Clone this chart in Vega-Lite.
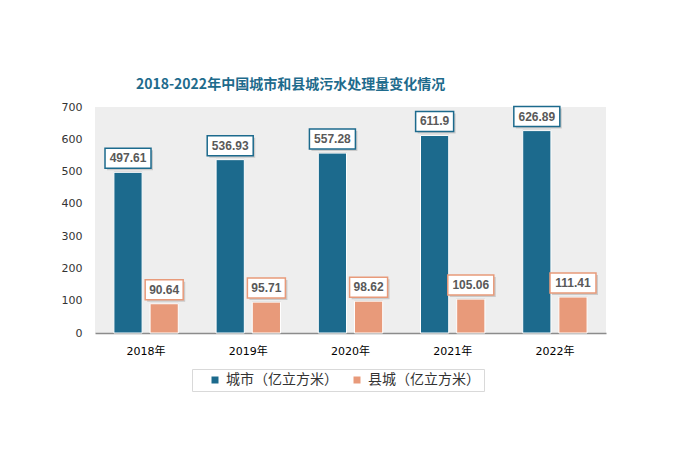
{
  "$schema": "https://vega.github.io/schema/vega-lite/v6.json",
  "width": 511,
  "height": 226,
  "autosize": {"type": "none"},
  "padding": {"left": 95, "top": 107, "right": 72, "bottom": 129},
  "background": "#ffffff",
  "config": {
    "view": {"fill": "#eeeeee", "stroke": null},
    "font": "DejaVu Sans, Noto Sans CJK SC"
  },
  "title": {
    "text": "2018-2022年中国城市和县城污水处理量变化情况",
    "font": "Noto Sans CJK SC",
    "fontSize": 14,
    "fontWeight": "bold",
    "color": "#1e6b8c",
    "anchor": "middle",
    "frame": "group",
    "dx": -60,
    "dy": 23,
    "baseline": "bottom",
    "offset": 18
  },
  "data": {
    "values": [
      {"year": "2018年", "series": "城市（亿立方米）", "value": 497.61},
      {"year": "2018年", "series": "县城（亿立方米）", "value": 90.64},
      {"year": "2019年", "series": "城市（亿立方米）", "value": 536.93},
      {"year": "2019年", "series": "县城（亿立方米）", "value": 95.71},
      {"year": "2020年", "series": "城市（亿立方米）", "value": 557.28},
      {"year": "2020年", "series": "县城（亿立方米）", "value": 98.62},
      {"year": "2021年", "series": "城市（亿立方米）", "value": 611.9},
      {"year": "2021年", "series": "县城（亿立方米）", "value": 105.06},
      {"year": "2022年", "series": "城市（亿立方米）", "value": 626.89},
      {"year": "2022年", "series": "县城（亿立方米）", "value": 111.41}
    ]
  },
  "encoding": {
    "x": {
      "field": "year",
      "type": "nominal",
      "sort": null,
      "scale": {"paddingInner": 0.37, "paddingOuter": 0.185},
      "axis": {
        "title": null,
        "ticks": false,
        "labelAngle": 0,
        "domainColor": "#8c8c8c",
        "domainWidth": 1.5,
        "labelFont": "DejaVu Sans, Noto Sans CJK SC",
        "labelFontSize": 11,
        "labelColor": "#000000",
        "labelPadding": 12
      }
    },
    "xOffset": {
      "field": "series",
      "type": "nominal",
      "sort": ["城市（亿立方米）", "县城（亿立方米）"],
      "scale": {"paddingInner": 0.22, "paddingOuter": 0}
    },
    "y": {
      "field": "value",
      "type": "quantitative",
      "scale": {"domain": [0, 700], "nice": false},
      "axis": {
        "title": null,
        "values": [0, 100, 200, 300, 400, 500, 600, 700],
        "domain": false,
        "ticks": false,
        "grid": false,
        "labelFont": "DejaVu Sans",
        "labelFontSize": 11,
        "labelColor": "#333333",
        "labelPadding": 13
      }
    }
  },
  "layer": [
    {
      "mark": {"type": "bar", "color": "#000000", "opacity": 0.12, "xOffset": 2.5, "x2Offset": 2.5, "yOffset": -1},
      "encoding": {}
    },
    {
      "mark": {"type": "bar", "stroke": "#ffffff", "strokeWidth": 1},
      "encoding": {
        "color": {
          "field": "series",
          "type": "nominal",
          "scale": {"domain": ["城市（亿立方米）", "县城（亿立方米）"], "range": ["#1c6a8d", "#e89a7a"]},
          "legend": {
            "orient": "none",
            "direction": "horizontal",
            "legendX": 97,
            "legendY": 262,
            "title": "　",
            "titleOrient": "left",
            "titlePadding": 12,
            "titleFontSize": 13,
            "strokeColor": "#d9d9d9",
            "fillColor": "#ffffff",
            "padding": 4,
            "symbolType": "square",
            "symbolSize": 49,
            "symbolStrokeWidth": 0,
            "labelFont": "Noto Sans CJK SC",
            "labelFontSize": 14,
            "labelColor": "#333333",
            "labelOffset": 4,
            "columnPadding": 12,
            "labelExpr": "datum.label + '　'"
          }
        }
      }
    },
    {
      "mark": {"type": "point", "filled": true, "opacity": 0.15, "fill": "#000000", "strokeWidth": 0, "size": 4},
      "encoding": {
        "shape": {
          "condition": {"test": "length(toString(datum.value)) < 6", "value": "M-17,-22H21V-2H-17Z"},
          "value": "M-21,-22H25V-2H-21Z"
        }
      }
    },
    {
      "mark": {"type": "point", "filled": true, "opacity": 1, "fill": "#ffffff", "strokeWidth": 1.5, "size": 4},
      "encoding": {
        "shape": {
          "condition": {"test": "length(toString(datum.value)) < 6", "value": "M-19,-24H19V-4H-19Z"},
          "value": "M-23,-24H23V-4H-23Z"
        },
        "stroke": {
          "field": "series",
          "type": "nominal",
          "scale": {"domain": ["城市（亿立方米）", "县城（亿立方米）"], "range": ["#1c6a8d", "#e89a7a"]},
          "legend": null
        }
      }
    },
    {
      "mark": {"type": "text", "font": "Liberation Sans", "fontSize": 12, "fontWeight": "bold", "color": "#595959", "baseline": "middle", "dy": -14},
      "encoding": {
        "text": {"field": "value", "type": "nominal"}
      }
    }
  ]
}
